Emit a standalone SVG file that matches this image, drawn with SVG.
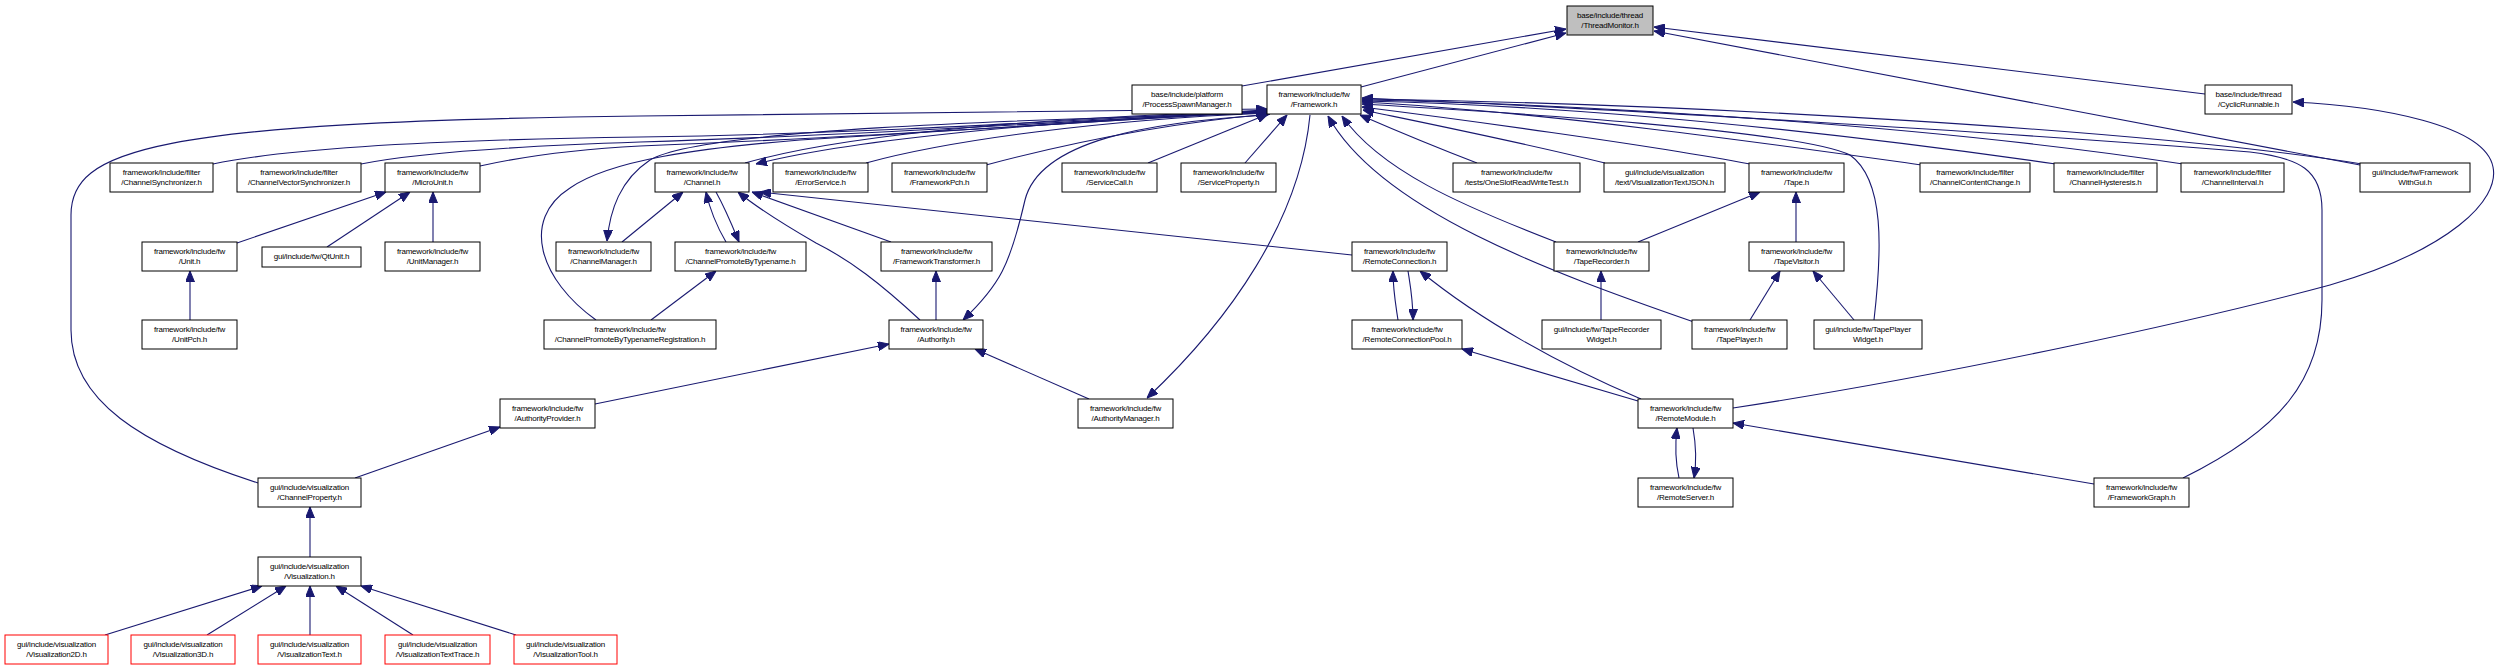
<svg xmlns="http://www.w3.org/2000/svg" width="2498" height="671" viewBox="0 0 2498 671">
<style>
.n rect{fill:#fff;stroke:#000;stroke-width:1}
.n.r rect{stroke:#ff0000}
.n.g rect{fill:#bfbfbf}
text{font-family:"Liberation Sans",Arial,sans-serif;font-size:8px;letter-spacing:-0.2px;text-anchor:middle;fill:#000}
#edges path{fill:none;stroke:#191970;stroke-width:1.1;marker-end:url(#a)}
</style>
<defs>
<marker id="a" viewBox="0 0 11 9" refX="11" refY="4.5" markerWidth="11" markerHeight="9" orient="auto" markerUnits="userSpaceOnUse"><path d="M0,0 L11,4.5 L0,9 z" fill="#191970" stroke="#191970" stroke-width="1"/></marker>
</defs>
<rect width="2498" height="671" fill="#fff"/>
<g id="edges">
<path d="M1242,86 L1566,29"/>
<path d="M1361,87 L1566,33"/>
<path d="M2205,94 L1654,27"/>
<path d="M2360,165 L1654,31"/>
<path d="M1733,408 C1950,375 2200,320 2330,285 C2450,250 2500,200 2493,167 C2485,125 2380,106 2293,102"/>
<path d="M2362,164 C2150,130 1700,104 1362,99"/>
<path d="M2183,164 C1950,128 1600,104 1362,100"/>
<path d="M2056,164 C1860,136 1600,106 1362,101"/>
<path d="M1922,165 C1800,148 1550,112 1362,102"/>
<path d="M2183,478 C2280,430 2322,380 2322,300 L2322,210 C2322,170 2300,158 2250,152 C2000,132 1600,108 1362,98"/>
<path d="M1874,320 C1882,250 1885,180 1850,155 C1800,130 1500,112 1362,104"/>
<path d="M1750,164 C1650,145 1450,118 1362,107"/>
<path d="M1605,163 C1520,142 1420,122 1363,110"/>
<path d="M1477,163 C1430,145 1390,128 1360,115"/>
<path d="M1556,242 C1460,205 1380,170 1342,116"/>
<path d="M1694,322 C1550,272 1380,210 1328,116"/>
<path d="M1310,115 C1300,220 1230,320 1147,398"/>
<path d="M1267,115 C1150,122 1040,140 1025,200 C1010,265 1000,285 963,320"/>
<path d="M1267,112 C1050,120 850,140 756,164"/>
<path d="M745,163 C850,133 1050,117 1267,111"/>
<path d="M866,163 C950,140 1100,120 1268,113"/>
<path d="M986,165 C1080,140 1180,122 1270,114"/>
<path d="M1148,163 L1268,114"/>
<path d="M1245,163 L1287,115"/>
<path d="M213,164 C280,150 420,140 640,137 C900,133 1100,118 1267,110"/>
<path d="M361,164 C420,152 520,146 640,142 C900,134 1100,119 1267,111"/>
<path d="M480,166 C530,155 580,149 640,146 C900,136 1100,120 1267,112"/>
<path d="M258,483 C140,445 71,400 71,330 L71,215 C71,150 150,122 640,116 C900,114 1100,112 1267,109"/>
<path d="M596,320 C540,280 520,220 570,188 C610,160 700,148 800,140 C1000,128 1150,117 1267,111"/>
<path d="M1267,113 C1000,120 700,130 650,160 C620,180 610,210 607,241"/>
<path d="M237,243 L386,192"/>
<path d="M327,247 L410,192"/>
<path d="M433,242 L433,192"/>
<path d="M190,320 L190,271"/>
<path d="M622,242 L683,192"/>
<path d="M726,242 C716,225 710,210 706,192"/>
<path d="M716,192 C726,210 732,225 739,242"/>
<path d="M651,320 L716,271"/>
<path d="M920,320 C880,283 850,260 816,243 C790,228 760,210 738,192"/>
<path d="M891,242 L752,192"/>
<path d="M1352,255 C1300,251 1100,230 760,192"/>
<path d="M936,320 L936,271"/>
<path d="M595,404 L889,344"/>
<path d="M1089,399 L975,349"/>
<path d="M355,478 L500,427"/>
<path d="M310,557 L310,507"/>
<path d="M105,635 L262,586"/>
<path d="M207,635 L286,586"/>
<path d="M310,635 L310,586"/>
<path d="M413,635 L336,586"/>
<path d="M516,635 L361,586"/>
<path d="M1398,320 C1395,300 1393,290 1393,271"/>
<path d="M1408,271 C1411,290 1413,300 1413,320"/>
<path d="M1641,399 C1560,365 1480,320 1420,271"/>
<path d="M1638,401 L1462,349"/>
<path d="M1679,478 C1675,460 1675,445 1677,428"/>
<path d="M1693,428 C1696,445 1697,460 1694,478"/>
<path d="M2094,484 L1733,423"/>
<path d="M1638,242 L1760,192"/>
<path d="M1796,242 L1796,192"/>
<path d="M1601,320 L1601,271"/>
<path d="M1750,320 L1780,271"/>
<path d="M1854,320 L1813,271"/>
</g>
<g id="n_TM" class="n g"><rect x="1567" y="6" width="86" height="29"/><text x="1610" y="18">base/include/thread</text><text x="1610" y="27.6">/ThreadMonitor.h</text></g>
<g id="n_PSM" class="n"><rect x="1132" y="85" width="110" height="29"/><text x="1187" y="97">base/include/platform</text><text x="1187" y="106.6">/ProcessSpawnManager.h</text></g>
<g id="n_FW" class="n"><rect x="1267" y="85" width="94" height="29"/><text x="1314" y="97">framework/include/fw</text><text x="1314" y="106.6">/Framework.h</text></g>
<g id="n_CR" class="n"><rect x="2205" y="85" width="87" height="29"/><text x="2248.5" y="97">base/include/thread</text><text x="2248.5" y="106.6">/CyclicRunnable.h</text></g>
<g id="n_CS" class="n"><rect x="110" y="163" width="103" height="29"/><text x="161.5" y="175">framework/include/filter</text><text x="161.5" y="184.6">/ChannelSynchronizer.h</text></g>
<g id="n_CVS" class="n"><rect x="237" y="163" width="124" height="29"/><text x="299" y="175">framework/include/filter</text><text x="299" y="184.6">/ChannelVectorSynchronizer.h</text></g>
<g id="n_MU" class="n"><rect x="385" y="163" width="95" height="29"/><text x="432.5" y="175">framework/include/fw</text><text x="432.5" y="184.6">/MicroUnit.h</text></g>
<g id="n_CH" class="n"><rect x="655" y="163" width="94" height="29"/><text x="702" y="175">framework/include/fw</text><text x="702" y="184.6">/Channel.h</text></g>
<g id="n_ES" class="n"><rect x="773" y="163" width="95" height="29"/><text x="820.5" y="175">framework/include/fw</text><text x="820.5" y="184.6">/ErrorService.h</text></g>
<g id="n_FP" class="n"><rect x="892" y="163" width="95" height="29"/><text x="939.5" y="175">framework/include/fw</text><text x="939.5" y="184.6">/FrameworkPch.h</text></g>
<g id="n_SC" class="n"><rect x="1062" y="163" width="95" height="29"/><text x="1109.5" y="175">framework/include/fw</text><text x="1109.5" y="184.6">/ServiceCall.h</text></g>
<g id="n_SP" class="n"><rect x="1181" y="163" width="95" height="29"/><text x="1228.5" y="175">framework/include/fw</text><text x="1228.5" y="184.6">/ServiceProperty.h</text></g>
<g id="n_OS" class="n"><rect x="1453" y="163" width="127" height="29"/><text x="1516.5" y="175">framework/include/fw</text><text x="1516.5" y="184.6">/tests/OneSlotReadWriteTest.h</text></g>
<g id="n_VJ" class="n"><rect x="1604" y="163" width="121" height="29"/><text x="1664.5" y="175">gui/include/visualization</text><text x="1664.5" y="184.6">/text/VisualizationTextJSON.h</text></g>
<g id="n_TA" class="n"><rect x="1749" y="163" width="95" height="29"/><text x="1796.5" y="175">framework/include/fw</text><text x="1796.5" y="184.6">/Tape.h</text></g>
<g id="n_CC" class="n"><rect x="1920" y="163" width="110" height="29"/><text x="1975" y="175">framework/include/filter</text><text x="1975" y="184.6">/ChannelContentChange.h</text></g>
<g id="n_CHY" class="n"><rect x="2054" y="163" width="103" height="29"/><text x="2105.5" y="175">framework/include/filter</text><text x="2105.5" y="184.6">/ChannelHysteresis.h</text></g>
<g id="n_CI" class="n"><rect x="2181" y="163" width="103" height="29"/><text x="2232.5" y="175">framework/include/filter</text><text x="2232.5" y="184.6">/ChannelInterval.h</text></g>
<g id="n_FG" class="n"><rect x="2360" y="163" width="110" height="29"/><text x="2415" y="175">gui/include/fw/Framework</text><text x="2415" y="184.6">WithGui.h</text></g>
<g id="n_UN" class="n"><rect x="142" y="242" width="95" height="29"/><text x="189.5" y="254">framework/include/fw</text><text x="189.5" y="263.6">/Unit.h</text></g>
<g id="n_QT" class="n"><rect x="262" y="247" width="99" height="20"/><text x="311.5" y="258.5">gui/include/fw/QtUnit.h</text></g>
<g id="n_UM" class="n"><rect x="385" y="242" width="95" height="29"/><text x="432.5" y="254">framework/include/fw</text><text x="432.5" y="263.6">/UnitManager.h</text></g>
<g id="n_CM" class="n"><rect x="556" y="242" width="95" height="29"/><text x="603.5" y="254">framework/include/fw</text><text x="603.5" y="263.6">/ChannelManager.h</text></g>
<g id="n_CPT" class="n"><rect x="675" y="242" width="131" height="29"/><text x="740.5" y="254">framework/include/fw</text><text x="740.5" y="263.6">/ChannelPromoteByTypename.h</text></g>
<g id="n_FT" class="n"><rect x="881" y="242" width="111" height="29"/><text x="936.5" y="254">framework/include/fw</text><text x="936.5" y="263.6">/FrameworkTransformer.h</text></g>
<g id="n_RC" class="n"><rect x="1352" y="242" width="95" height="29"/><text x="1399.5" y="254">framework/include/fw</text><text x="1399.5" y="263.6">/RemoteConnection.h</text></g>
<g id="n_TR" class="n"><rect x="1554" y="242" width="95" height="29"/><text x="1601.5" y="254">framework/include/fw</text><text x="1601.5" y="263.6">/TapeRecorder.h</text></g>
<g id="n_TV" class="n"><rect x="1749" y="242" width="95" height="29"/><text x="1796.5" y="254">framework/include/fw</text><text x="1796.5" y="263.6">/TapeVisitor.h</text></g>
<g id="n_UP" class="n"><rect x="142" y="320" width="95" height="29"/><text x="189.5" y="332">framework/include/fw</text><text x="189.5" y="341.6">/UnitPch.h</text></g>
<g id="n_CPR" class="n"><rect x="544" y="320" width="172" height="29"/><text x="630" y="332">framework/include/fw</text><text x="630" y="341.6">/ChannelPromoteByTypenameRegistration.h</text></g>
<g id="n_AU" class="n"><rect x="889" y="320" width="94" height="29"/><text x="936" y="332">framework/include/fw</text><text x="936" y="341.6">/Authority.h</text></g>
<g id="n_RCP" class="n"><rect x="1352" y="320" width="110" height="29"/><text x="1407" y="332">framework/include/fw</text><text x="1407" y="341.6">/RemoteConnectionPool.h</text></g>
<g id="n_TRW" class="n"><rect x="1542" y="320" width="119" height="29"/><text x="1601.5" y="332">gui/include/fw/TapeRecorder</text><text x="1601.5" y="341.6">Widget.h</text></g>
<g id="n_TP" class="n"><rect x="1692" y="320" width="95" height="29"/><text x="1739.5" y="332">framework/include/fw</text><text x="1739.5" y="341.6">/TapePlayer.h</text></g>
<g id="n_TPW" class="n"><rect x="1814" y="320" width="108" height="29"/><text x="1868" y="332">gui/include/fw/TapePlayer</text><text x="1868" y="341.6">Widget.h</text></g>
<g id="n_AP" class="n"><rect x="500" y="399" width="95" height="29"/><text x="547.5" y="411">framework/include/fw</text><text x="547.5" y="420.6">/AuthorityProvider.h</text></g>
<g id="n_AM" class="n"><rect x="1078" y="399" width="95" height="29"/><text x="1125.5" y="411">framework/include/fw</text><text x="1125.5" y="420.6">/AuthorityManager.h</text></g>
<g id="n_RM" class="n"><rect x="1638" y="399" width="95" height="29"/><text x="1685.5" y="411">framework/include/fw</text><text x="1685.5" y="420.6">/RemoteModule.h</text></g>
<g id="n_CP" class="n"><rect x="258" y="478" width="103" height="29"/><text x="309.5" y="490">gui/include/visualization</text><text x="309.5" y="499.6">/ChannelProperty.h</text></g>
<g id="n_RS" class="n"><rect x="1638" y="478" width="95" height="29"/><text x="1685.5" y="490">framework/include/fw</text><text x="1685.5" y="499.6">/RemoteServer.h</text></g>
<g id="n_FGR" class="n"><rect x="2094" y="478" width="95" height="29"/><text x="2141.5" y="490">framework/include/fw</text><text x="2141.5" y="499.6">/FrameworkGraph.h</text></g>
<g id="n_VI" class="n"><rect x="258" y="557" width="103" height="29"/><text x="309.5" y="569">gui/include/visualization</text><text x="309.5" y="578.6">/Visualization.h</text></g>
<g id="n_V2" class="n r"><rect x="5" y="635" width="103" height="29"/><text x="56.5" y="647">gui/include/visualization</text><text x="56.5" y="656.6">/Visualization2D.h</text></g>
<g id="n_V3" class="n r"><rect x="131" y="635" width="104" height="29"/><text x="183" y="647">gui/include/visualization</text><text x="183" y="656.6">/Visualization3D.h</text></g>
<g id="n_VT" class="n r"><rect x="258" y="635" width="103" height="29"/><text x="309.5" y="647">gui/include/visualization</text><text x="309.5" y="656.6">/VisualizationText.h</text></g>
<g id="n_VTT" class="n r"><rect x="385" y="635" width="105" height="29"/><text x="437.5" y="647">gui/include/visualization</text><text x="437.5" y="656.6">/VisualizationTextTrace.h</text></g>
<g id="n_VTo" class="n r"><rect x="514" y="635" width="103" height="29"/><text x="565.5" y="647">gui/include/visualization</text><text x="565.5" y="656.6">/VisualizationTool.h</text></g>
</svg>
